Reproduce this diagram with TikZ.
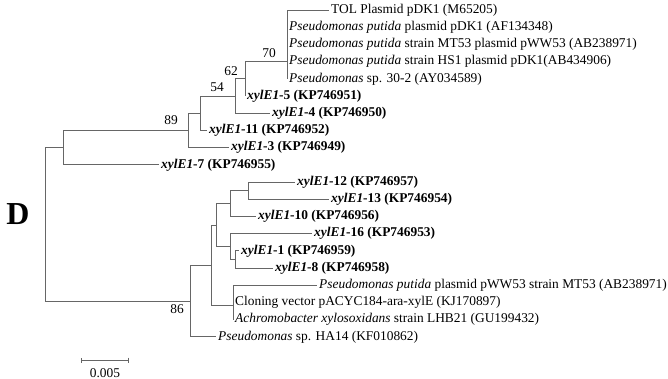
\documentclass[tikz,border=0pt]{standalone}
\usepackage{fontspec}
\setmainfont{Liberation Serif}
\usetikzlibrary{arrows.meta}
\newcommand{\xyl}[2]{\textbf{\textit{xylE1}-#1 (#2)}}
\begin{document}
\begin{tikzpicture}[x=1pt, y=-1pt,
  taxon/.style={anchor=west, inner sep=2pt, font=\fontsize{13.4}{15}\selectfont},
  boot/.style={inner sep=0pt, font=\fontsize{13.4}{15}\selectfont},
  branch/.style={draw=black!60, line width=0.8pt}
]
  \useasboundingbox (0,0) rectangle (668,379);

  \coordinate (root) at (45,224.2);
  \coordinate (nA)   at (63,147.6);
  \coordinate (nU)   at (188,130.4);
  \coordinate (nT)   at (200,113.2);
  \coordinate (nS)   at (235,96);
  \coordinate (nQ)   at (245,78.8);
  \coordinate (nP)   at (287,61.6);
  \coordinate (nV)   at (190,300.9);
  \coordinate (nE)   at (211,265);
  \coordinate (nG)   at (216,225);
  \coordinate (nB)   at (230,203.5);
  \coordinate (nB2)  at (248,190.6);
  \coordinate (nC)   at (230,246.5);
  \coordinate (nD)   at (235,259.4);
  \coordinate (nF)   at (233,305);

  \node[taxon] (tol)  at (329,10)    {TOL Plasmid pDK1 (M65205)};
  \node[taxon] (pdk)  at (287,27.2)  {\textit{Pseudomonas putida} plasmid pDK1 (AF134348)};
  \node[taxon] (mt53) at (287,44.4)  {\textit{Pseudomonas putida} strain MT53 plasmid pWW53 (AB238971)};
  \node[taxon] (hs1)  at (287,61.6)  {\textit{Pseudomonas putida} strain HS1 plasmid pDK1(AB434906)};
  \node[taxon] (s302) at (287,78.8)  {\textit{Pseudomonas} sp. 30-2 (AY034589)};
  \node[taxon] (x5)   at (245,96)    {\xyl{5}{KP746951}};
  \node[taxon] (x4)   at (270,113.2) {\xyl{4}{KP746950}};
  \node[taxon] (x11)  at (207,130.4) {\xyl{11}{KP746952}};
  \node[taxon] (x3)   at (229,147.6) {\xyl{3}{KP746949}};
  \node[taxon] (x7)   at (159,164.8) {\xyl{7}{KP746955}};
  \node[taxon] (x12)  at (295,182)   {\xyl{12}{KP746957}};
  \node[taxon] (x13)  at (329,199.2) {\xyl{13}{KP746954}};
  \node[taxon] (x10)  at (256,216.4) {\xyl{10}{KP746956}};
  \node[taxon] (x16)  at (312,233.6) {\xyl{16}{KP746953}};
  \node[taxon] (x1)   at (239,250.8) {\xyl{1}{KP746959}};
  \node[taxon] (x8)   at (273,268)   {\xyl{8}{KP746958}};
  \node[taxon] (pww)  at (317,285.2) {\textit{Pseudomonas putida} plasmid pWW53 strain MT53 (AB238971)};
  \node[taxon] (clv)  at (233,302.4) {Cloning vector pACYC184-ara-xylE (KJ170897)};
  \node[taxon] (axy)  at (233,319.6) {\textit{Achromobacter xylosoxidans} strain LHB21 (GU199432)};
  \node[taxon] (ha14) at (216,336.8) {\textit{Pseudomonas} sp. HA14 (KF010862)};

  \draw[branch] (root) |- (nA) (root) |- (nV);
  \draw[branch] (nA) |- (nU) (nA) |- (x7.west);
  \draw[branch] (nU) |- (nT) (nU) |- (x3.west);
  \draw[branch] (nT) |- (nS) (nT) |- (x11.west);
  \draw[branch] (nS) |- (nQ) (nS) |- (x4.west);
  \draw[branch] (nQ) |- (nP) (nQ) |- (x5.west);
  \draw[branch] (nP) |- (tol.west) (nP) |- (pdk.west) (nP) |- (mt53.west)
                (nP) |- (hs1.west) (nP) |- (s302.west);
  \draw[branch] (nV) |- (nE) (nV) |- (ha14.west);
  \draw[branch] (nE) |- (nG) (nE) |- (nF);
  \draw[branch] (nG) |- (nB) (nG) |- (nC);
  \draw[branch] (nB) |- (nB2) (nB) |- (x10.west);
  \draw[branch] (nB2) |- (x12.west) (nB2) |- (x13.west);
  \draw[branch] (nC) |- (x16.west) (nC) |- (nD);
  \draw[branch] (nD) |- (x1.west) (nD) |- (x8.west);
  \draw[branch] (nF) |- (pww.west) (nF) |- (clv.west) (nF) |- (axy.west);

  \node[boot] (b70) at (269,53)  {70};
  \node[boot] (b62) at (231,71)  {62};
  \node[boot] (b54) at (217,87)  {54};
  \node[boot] (b89) at (171,120) {89};
  \node[boot] (b86) at (177,309) {86};

  \coordinate (sbl) at (81,360);
  \coordinate (sbr) at (129,360);
  \draw[branch, {Bar[width=5pt]}-{Bar[width=5pt]}] (sbl) -- (sbr);
  \node[boot] (sbt) at (105,373) {0.005};

  \node[inner sep=0pt, font=\fontsize{32}{32}\selectfont\bfseries] (panel) at (18,214) {D};
\end{tikzpicture}
\end{document}
